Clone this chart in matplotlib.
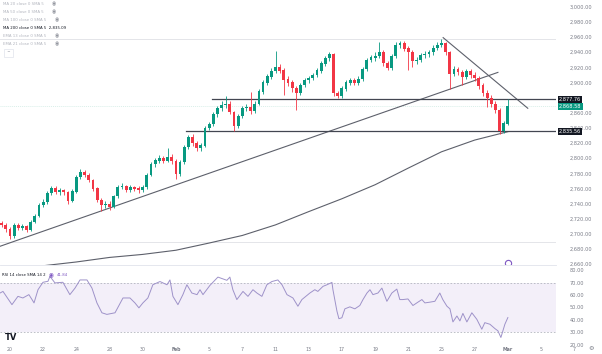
import numpy as np
import matplotlib
matplotlib.use("Agg")
import matplotlib.pyplot as plt
import matplotlib.transforms as mtransforms

# XAUUSD 4H, 4 velas por dia (dia 0 = 20 jan, dia 30 = 3 mar)
closes = [2712, 2707,
          2697, 2712, 2708, 2710,  2706, 2716, 2724, 2738,  2742, 2754, 2760, 2756,
          2758, 2755, 2744, 2756,  2775, 2782, 2778, 2771,  2760, 2745, 2738, 2740,
          2736, 2750, 2762, 2763,  2758, 2762, 2760, 2758,  2762, 2778, 2792, 2797,
          2800, 2797, 2801, 2796,  2780, 2795, 2815, 2828,  2820, 2814, 2817, 2840,
          2845, 2858, 2866, 2870,  2872, 2861, 2843, 2856,  2866, 2868, 2862, 2872,
          2888, 2900, 2908, 2915,  2920, 2916, 2904, 2900,  2893, 2886, 2897, 2903,
          2906, 2910, 2916, 2925,  2932, 2937, 2886, 2882,  2892, 2900, 2903, 2900,
          2905, 2918, 2930, 2933,  2935, 2940, 2926, 2920,  2935, 2950, 2952, 2945,
          2940, 2928, 2930, 2936,  2938, 2940, 2946, 2950,  2952, 2940, 2912, 2918,
          2914, 2908, 2915, 2910,  2906, 2896, 2886, 2880,  2872, 2864, 2836, 2846,
          2868.58]
highs = [2717, 2714,
         2709, 2714, 2715, 2713,  2712, 2718, 2727, 2741,  2746, 2757, 2764, 2763,
         2761, 2760, 2757, 2759,  2778, 2786, 2785, 2780,  2773, 2762, 2748, 2744,
         2743, 2752, 2765, 2767,  2765, 2765, 2764, 2763,  2765, 2781, 2795, 2800,
         2804, 2803, 2814, 2806,  2799, 2798, 2818, 2831,  2832, 2823, 2820, 2843,
         2848, 2861, 2869, 2876,  2882, 2875, 2863, 2859,  2869, 2872, 2887, 2875,
         2891, 2903, 2911, 2919,  2942, 2925, 2919, 2908,  2903, 2896, 2900, 2906,
         2909, 2913, 2919, 2928,  2935, 2940, 2939, 2889,  2895, 2903, 2906, 2906,
         2908, 2921, 2933, 2937,  2940, 2954, 2943, 2929,  2938, 2953, 2955, 2955,
         2948, 2943, 2934, 2939,  2941, 2943, 2949, 2954,  2957, 2954, 2942, 2922,
         2921, 2917, 2918, 2918,  2914, 2909, 2899, 2890,  2883, 2875, 2866, 2849,
         2878]
lows = [2709, 2703,
        2694, 2695, 2705, 2705,  2703, 2704, 2714, 2722,  2735, 2740, 2752, 2753,
        2752, 2751, 2740, 2742,  2754, 2772, 2775, 2768,  2757, 2742, 2730, 2734,
        2731, 2734, 2748, 2759,  2755, 2755, 2757, 2754,  2755, 2760, 2776, 2789,
        2794, 2794, 2795, 2793,  2773, 2776, 2793, 2812,  2816, 2810, 2809, 2815,
        2837, 2843, 2855, 2863,  2867, 2858, 2836, 2840,  2853, 2862, 2859, 2860,
        2870, 2885, 2897, 2905,  2912, 2912, 2884, 2896,  2888, 2864, 2883, 2894,
        2900, 2903, 2907, 2913,  2922, 2929, 2882, 2879,  2879, 2889, 2897, 2897,
        2897, 2902, 2915, 2927,  2929, 2932, 2922, 2916,  2917, 2932, 2946, 2941,
        2916, 2920, 2925, 2927,  2933, 2934, 2937, 2943,  2947, 2936, 2891, 2908,
        2910, 2897, 2905, 2906,  2902, 2892, 2882, 2868,  2868, 2860, 2832, 2833,
        2844]
first_open = 2714

# MA 200 (a cada 2 dias)
ma_days = [0, 2, 4, 6, 8, 10, 12, 14, 16, 18, 20, 22, 24, 26, 28, 30]
ma200 = [2653.5, 2658, 2663, 2669, 2673, 2678.5, 2688, 2698, 2712, 2729.5,
         2746.5, 2765, 2787, 2808.5, 2824, 2835.09]

# RSI 14
rsi_days = [-0.60, -0.42, 0.12, 0.48, 0.78, 1.14, 1.33, 1.45, 1.69, 1.99, 2.29, 2.41,
            2.71, 3.19, 3.61, 3.92, 4.22, 4.64, 4.94, 5.24, 5.54, 5.84, 6.33, 6.81,
            7.23, 7.53, 7.77, 8.01, 8.31, 8.61, 9.04, 9.46, 9.64, 9.82, 10.12, 10.42,
            10.66, 10.96, 11.27, 11.45, 11.63, 12.05, 12.53, 13.07, 13.25, 13.43, 13.67,
            14.04, 14.34, 14.64, 14.88, 15.18, 15.48, 15.78, 16.14, 16.39, 16.69, 17.05,
            17.35, 17.59, 18.07, 18.37, 18.55, 18.86, 19.10, 19.40, 19.46, 19.70, 19.82,
            20.00, 20.18, 20.48, 20.78, 21.08, 21.27, 21.51, 21.69, 21.87, 22.17, 22.41,
            22.71, 23.01, 23.31, 23.49, 23.67, 23.98, 24.28, 24.58, 24.82, 25.00, 25.30,
            25.60, 25.90, 26.08, 26.33, 26.51, 26.69, 26.93, 27.11, 27.29, 27.53, 27.83,
            28.13, 28.43, 28.61, 28.92, 29.22, 29.40, 29.58, 29.82, 30.0]
rsi = [61.7, 63, 52.3, 59, 57.7, 60.4, 56.4, 53.7, 64.4, 70.4, 71.2, 75.2,
       69.9, 70.4, 60.4, 65.7, 72.3, 72.3, 65.7, 53.7, 45.7, 44.4, 45.7, 57.7,
       57.7, 53.7, 49.7, 53.7, 57.7, 68.4, 71, 68.4, 72.3, 59, 52.3, 60.4,
       68.4, 61.7, 60.4, 64.4, 60.4, 67.9, 74.6, 72, 74.6, 64.4, 56.4,
       63, 59, 64.4, 61.7, 59, 68.4, 71, 72.3, 68.4, 60.4, 57.7,
       51, 56.4, 61.7, 64.4, 63, 67.1, 68.4, 70.3, 64.4, 47.1, 40.9,
       41.7, 48.9, 50.5, 48.9, 51.6, 56.4, 61.7, 64.4, 60.4, 61.7, 65.7,
       55, 61.7, 64.9, 56.4, 56.4, 56.9, 51.6, 54.3, 56.4, 53.7, 54.3,
       55, 61.7, 56.4, 51, 48.9, 38.3, 43.1, 39.1, 45.2, 38.3, 45.7,
       40.4, 32.4, 37.7, 36.4, 32.9, 31.1, 25.7, 36.4, 41.84]

tick_days = [0, 2, 4, 6, 8, 10, 12, 14, 16, 18, 20, 22, 24, 26, 28, 30, 32]
tick_labels = ["20", "22", "24", "28", "30", "Feb", "5", "7", "11", "13",
               "17", "19", "21", "25", "27", "Mar", "5"]

res_level = 2877.76
sup_level = 2835.56
last_price = 2868.58

green = "#089981"
red = "#f23645"
txt = "#787b86"

fig = plt.figure(figsize=(6.02, 3.54), dpi=100)
W, H = 602, 354
ax = fig.add_axes([0, 1 - 265 / H, 556 / W, 265 / H])
ax2 = fig.add_axes([0, 1 - 346 / H, 556 / W, 81 / H])

x = (np.arange(len(closes)) - 2) * 0.25
opens = np.r_[first_open, closes[:-1]]
c = np.array(closes, dtype=float)
up = c >= opens
cols = np.where(up, green, red)

# linhas horizontais claras
for lvl in [2958, 2689]:
    ax.axhline(lvl, color="#e4e5e9", lw=0.7, zorder=0)
ax.axhline(last_price, color="#d9efe9", lw=0.7, ls=(0, (1, 1)), zorder=0)

ax.vlines(x, lows, highs, colors=cols, lw=0.6, zorder=2)
ax.bar(x, np.abs(c - opens) + 0.4, bottom=np.minimum(c, opens) - 0.2, width=0.17,
       color=cols, zorder=3, linewidth=0)

ax.plot(ma_days, ma200, color="#5d606b", lw=0.8, zorder=1)

# linhas de tendencia e niveis
ax.plot([-0.6, 29.4], [2683.7, 2913.4], color="#5d606b", lw=0.8, zorder=1)
ax.plot([26.1, 31.2], [2959.3, 2866.0], color="#5d606b", lw=0.8, zorder=1)
ax.plot([12.2, 40], [res_level, res_level], color="#434651", lw=0.9, zorder=1)
ax.plot([10.6, 40], [sup_level, sup_level], color="#434651", lw=0.9, zorder=1)

ax.set_xlim(-0.6, 32.9)
ax.set_ylim(2659, 3009)
ax.yaxis.tick_right()
yt = [v for v in range(2660, 3001, 20) if v not in (2880,)]
ax.set_yticks(yt)
ax.set_yticklabels([f"{v:,.2f}" for v in yt])
ax.tick_params(axis="y", length=0, pad=10, labelsize=3.6, labelcolor=txt)
ax.set_xticks([])
for s in ax.spines.values():
    s.set_visible(False)

# caixas de preco
for lvl, bg in [(res_level, "#131722"), (last_price, green), (sup_level, "#131722")]:
    ax.text(1.005, lvl, f"{lvl:,.2f}", transform=ax.get_yaxis_transform(),
            fontsize=3.6, color="white", va="center", ha="left", zorder=10,
            bbox=dict(boxstyle="square,pad=0.25", fc=bg, ec="none"), clip_on=False)

# legenda
legend_rows = [("MA 20 close 0 SMA 5", ""), ("MA 50 close 0 SMA 5", ""),
               ("MA 100 close 0 SMA 5", ""), ("MA 200 close 0 SMA 5", "2,835.09"),
               ("EMA 13 close 0 SMA 5", ""), ("EMA 21 close 0 SMA 5", "")]
for i, (name, val) in enumerate(legend_rows):
    yy = 1 - (4 + 8 * i) / 265
    if val:
        ax.text(0.006, yy, name + "  " + val, transform=ax.transAxes, fontsize=2.8,
                color="#131722", va="center")
    else:
        ax.text(0.006, yy, name, transform=ax.transAxes, fontsize=2.8,
                color="#b2b5be", va="center")
        ax.text(0.006 + 0.0043 * len(name) + 0.006, yy, "◉", transform=ax.transAxes,
                fontsize=3.6, color="#9598a1", va="center")
ax.text(0.012, 1 - 53 / 265, "^", transform=ax.transAxes, fontsize=3.2, color=txt,
        va="center", bbox=dict(boxstyle="square,pad=0.5", fc="white", ec="#e0e3eb", lw=0.5))

ax.plot([30.0], [2661.5], marker="o", ms=4.5, mfc="white", mec="#7e57c2", mew=0.8,
        clip_on=False, zorder=5)

# painel RSI
ax2.axhspan(30, 70, color="#7e57c2", alpha=0.09, lw=0)
ax2.axhline(70, color="#b2b5be", lw=0.6, ls=(0, (2, 2)))
ax2.axhline(30, color="#b2b5be", lw=0.6, ls=(0, (2, 2)))
ax2.plot(rsi_days, rsi, color="#9e92c9", lw=0.7)
ax2.set_xlim(-0.6, 32.9)
ax2.set_ylim(18.8, 84.4)
ax2.yaxis.tick_right()
ax2.set_yticks(range(20, 81, 10))
ax2.set_yticklabels([f"{v:.2f}" for v in range(20, 81, 10)])
ax2.tick_params(axis="y", length=0, pad=10, labelsize=3.6, labelcolor=txt)
ax2.set_xticks(tick_days)
ax2.set_xticklabels(tick_labels)
ax2.tick_params(axis="x", length=0, pad=0.8, labelsize=3.4, labelcolor=txt)
for lab in ax2.get_xticklabels():
    if lab.get_text() in ("Feb", "Mar"):
        lab.set_fontweight("bold")
for s in ax2.spines.values():
    s.set_visible(False)
ax2.spines["top"].set_visible(True)
ax2.spines["top"].set_color("#e0e3eb")
ax2.spines["top"].set_linewidth(0.6)

trans = mtransforms.blended_transform_factory(ax2.transData, ax2.transAxes)
ax2.text(34, -0.015, "7", transform=trans, fontsize=3.4, color=txt, ha="center",
         va="top", clip_on=False)
fig.text(591 / W, 1 - 349 / H, "⚙", fontsize=4.5, color=txt, ha="center", va="center")

ax2.text(0.004, 1 - 10 / 81, "RSI 14 close SMA 14 2", transform=ax2.transAxes,
         fontsize=2.8, color="#131722", va="center")
ax2.text(0.088, 1 - 10 / 81, "◉", transform=ax2.transAxes, fontsize=4,
         color="#7e57c2", va="center")
ax2.text(0.103, 1 - 10 / 81, "41.84", transform=ax2.transAxes, fontsize=2.8,
         color="#7e57c2", va="center")
ax2.text(0.008, 1 - 72 / 81, "TV", transform=ax2.transAxes, fontsize=6,
         fontweight="bold", color="#131722", va="center")

fig.savefig("out.png", dpi=100, facecolor="white")
